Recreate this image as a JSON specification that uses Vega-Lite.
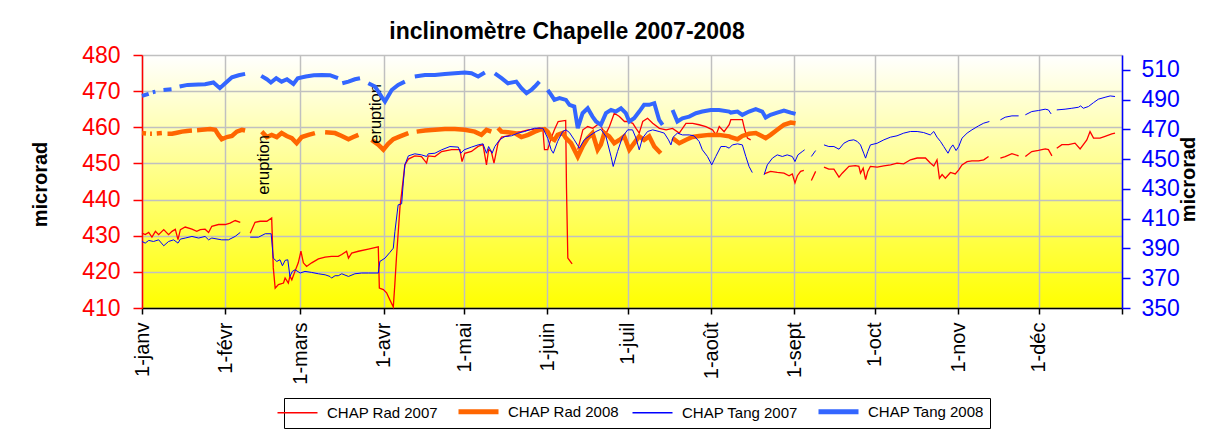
{
"$schema": "https://vega.github.io/schema/vega-lite/v6.json",
"width": 980, "height": 253,
"autosize": {"type": "none"},
"padding": {"left": 142, "top": 55, "right": 86, "bottom": 131},
"background": "white",
"title": {"text": "inclinomètre Chapelle 2007-2008", "font": "Liberation Sans", "fontSize": 23, "fontWeight": "bold", "color": "black", "anchor": "middle", "dx": -65, "offset": 0},
"config": {
  "view": {"stroke": null, "fill": {"gradient": "linear", "x1": 0, "y1": 0, "x2": 0, "y2": 1, "stops": [{"offset": 0, "color": "#ffffff"}, {"offset": 1, "color": "#ffff00"}]}},
  "axis": {"labelFont": "Liberation Sans", "titleFont": "Liberation Sans", "gridColor": "#c0c0c0", "gridWidth": 1.5, "gridOpacity": 1}
},
"data": {"values": [
{"serie":"CHAP Rad 2007","jour":0,"val":430.7},{"serie":"CHAP Rad 2007","jour":1.2,"val":430.3},{"serie":"CHAP Rad 2007","jour":2.5,"val":430.9},{"serie":"CHAP Rad 2007","jour":3.7,"val":429.6},{"serie":"CHAP Rad 2007","jour":5,"val":431.2},{"serie":"CHAP Rad 2007","jour":6.2,"val":430.3},{"serie":"CHAP Rad 2007","jour":8.1,"val":431.7},{"serie":"CHAP Rad 2007","jour":9.9,"val":430.3},{"serie":"CHAP Rad 2007","jour":11.2,"val":431.2},{"serie":"CHAP Rad 2007","jour":12.4,"val":431.8},{"serie":"CHAP Rad 2007","jour":13.4,"val":428.9},{"serie":"CHAP Rad 2007","jour":14.3,"val":431.7},{"serie":"CHAP Rad 2007","jour":16.1,"val":432.4},{"serie":"CHAP Rad 2007","jour":18.6,"val":431.8},{"serie":"CHAP Rad 2007","jour":20.4,"val":431.2},{"serie":"CHAP Rad 2007","jour":21.7,"val":431.7},{"serie":"CHAP Rad 2007","jour":23.5,"val":431.8},{"serie":"CHAP Rad 2007","jour":24.8,"val":430.9},{"serie":"CHAP Rad 2007","jour":26,"val":432.6},{"serie":"CHAP Rad 2007","jour":28.5,"val":433.1},{"serie":"CHAP Rad 2007","jour":31,"val":433.1},{"serie":"CHAP Rad 2007","jour":32.8,"val":433.5},{"serie":"CHAP Rad 2007","jour":34.7,"val":434.2},{"serie":"CHAP Rad 2007","jour":36.6,"val":433.7},{"serie":"CHAP Rad 2007","jour":38.5,"val":null},{"serie":"CHAP Rad 2007","jour":40.3,"val":430.7},{"serie":"CHAP Rad 2007","jour":42.1,"val":433.7},{"serie":"CHAP Rad 2007","jour":44,"val":434},{"serie":"CHAP Rad 2007","jour":46.5,"val":434},{"serie":"CHAP Rad 2007","jour":48.3,"val":434.9},{"serie":"CHAP Rad 2007","jour":48.9,"val":421.1},{"serie":"CHAP Rad 2007","jour":49.6,"val":415.5},{"serie":"CHAP Rad 2007","jour":50.8,"val":416.5},{"serie":"CHAP Rad 2007","jour":52.7,"val":416.9},{"serie":"CHAP Rad 2007","jour":53.3,"val":418.3},{"serie":"CHAP Rad 2007","jour":54.5,"val":416.9},{"serie":"CHAP Rad 2007","jour":55.1,"val":418.8},{"serie":"CHAP Rad 2007","jour":55.8,"val":417.8},{"serie":"CHAP Rad 2007","jour":57,"val":420.2},{"serie":"CHAP Rad 2007","jour":58.2,"val":422.5},{"serie":"CHAP Rad 2007","jour":59.2,"val":425.7},{"serie":"CHAP Rad 2007","jour":60.1,"val":422.5},{"serie":"CHAP Rad 2007","jour":61.3,"val":421.5},{"serie":"CHAP Rad 2007","jour":63.2,"val":422.5},{"serie":"CHAP Rad 2007","jour":65.7,"val":423.6},{"serie":"CHAP Rad 2007","jour":68.2,"val":424.1},{"serie":"CHAP Rad 2007","jour":70.6,"val":424.3},{"serie":"CHAP Rad 2007","jour":73.1,"val":424.3},{"serie":"CHAP Rad 2007","jour":74.4,"val":424.8},{"serie":"CHAP Rad 2007","jour":76.2,"val":425.7},{"serie":"CHAP Rad 2007","jour":76.9,"val":423.8},{"serie":"CHAP Rad 2007","jour":78.1,"val":425.2},{"serie":"CHAP Rad 2007","jour":80.6,"val":425.7},{"serie":"CHAP Rad 2007","jour":84.3,"val":426.3},{"serie":"CHAP Rad 2007","jour":88,"val":426.9},{"serie":"CHAP Rad 2007","jour":88.4,"val":415.5},{"serie":"CHAP Rad 2007","jour":89.9,"val":415.1},{"serie":"CHAP Rad 2007","jour":91.1,"val":414.2},{"serie":"CHAP Rad 2007","jour":92.3,"val":412.3},{"serie":"CHAP Rad 2007","jour":93.6,"val":410.3},{"serie":"CHAP Rad 2007","jour":94.2,"val":416.9},{"serie":"CHAP Rad 2007","jour":94.8,"val":424.3},{"serie":"CHAP Rad 2007","jour":96.1,"val":438.1},{"serie":"CHAP Rad 2007","jour":96.7,"val":441.8},{"serie":"CHAP Rad 2007","jour":97.9,"val":449.6},{"serie":"CHAP Rad 2007","jour":99.2,"val":451.2},{"serie":"CHAP Rad 2007","jour":101.6,"val":452.1},{"serie":"CHAP Rad 2007","jour":104.1,"val":451.9},{"serie":"CHAP Rad 2007","jour":106,"val":450.1},{"serie":"CHAP Rad 2007","jour":106.6,"val":452.1},{"serie":"CHAP Rad 2007","jour":109.1,"val":451.9},{"serie":"CHAP Rad 2007","jour":111.6,"val":453.3},{"serie":"CHAP Rad 2007","jour":115.3,"val":453.8},{"serie":"CHAP Rad 2007","jour":118.4,"val":453.8},{"serie":"CHAP Rad 2007","jour":119.2,"val":450.5},{"serie":"CHAP Rad 2007","jour":120.2,"val":452.8},{"serie":"CHAP Rad 2007","jour":122.7,"val":453.3},{"serie":"CHAP Rad 2007","jour":125.2,"val":454.7},{"serie":"CHAP Rad 2007","jour":127,"val":455.2},{"serie":"CHAP Rad 2007","jour":128.3,"val":449.6},{"serie":"CHAP Rad 2007","jour":129.1,"val":453.8},{"serie":"CHAP Rad 2007","jour":130.1,"val":453.3},{"serie":"CHAP Rad 2007","jour":131.1,"val":450.1},{"serie":"CHAP Rad 2007","jour":132.6,"val":455.6},{"serie":"CHAP Rad 2007","jour":133.9,"val":457.3},{"serie":"CHAP Rad 2007","jour":136.3,"val":457.6},{"serie":"CHAP Rad 2007","jour":138.8,"val":458.6},{"serie":"CHAP Rad 2007","jour":141.3,"val":458.8},{"serie":"CHAP Rad 2007","jour":143.8,"val":459.3},{"serie":"CHAP Rad 2007","jour":146.3,"val":459.5},{"serie":"CHAP Rad 2007","jour":148,"val":459.8},{"serie":"CHAP Rad 2007","jour":149.3,"val":459.5},{"serie":"CHAP Rad 2007","jour":149.9,"val":453.8},{"serie":"CHAP Rad 2007","jour":151.1,"val":453.8},{"serie":"CHAP Rad 2007","jour":152.4,"val":457},{"serie":"CHAP Rad 2007","jour":153.6,"val":459.3},{"serie":"CHAP Rad 2007","jour":155,"val":461.6},{"serie":"CHAP Rad 2007","jour":157.8,"val":461.9},{"serie":"CHAP Rad 2007","jour":158.1,"val":443.2},{"serie":"CHAP Rad 2007","jour":158.6,"val":423.8},{"serie":"CHAP Rad 2007","jour":160.2,"val":422.2},{"serie":"CHAP Rad 2007","jour":161.2,"val":null},{"serie":"CHAP Rad 2007","jour":162.3,"val":453.8},{"serie":"CHAP Rad 2007","jour":164.2,"val":459.3},{"serie":"CHAP Rad 2007","jour":166,"val":460.2},{"serie":"CHAP Rad 2007","jour":167.9,"val":459.7},{"serie":"CHAP Rad 2007","jour":170.4,"val":461.1},{"serie":"CHAP Rad 2007","jour":171.6,"val":459.3},{"serie":"CHAP Rad 2007","jour":172.9,"val":458.4},{"serie":"CHAP Rad 2007","jour":174.1,"val":460.2},{"serie":"CHAP Rad 2007","jour":175.9,"val":463.9},{"serie":"CHAP Rad 2007","jour":177.8,"val":463},{"serie":"CHAP Rad 2007","jour":179.7,"val":461.6},{"serie":"CHAP Rad 2007","jour":180.9,"val":461.6},{"serie":"CHAP Rad 2007","jour":182.8,"val":461.1},{"serie":"CHAP Rad 2007","jour":184,"val":459.7},{"serie":"CHAP Rad 2007","jour":185.2,"val":458.4},{"serie":"CHAP Rad 2007","jour":186.5,"val":461.6},{"serie":"CHAP Rad 2007","jour":188.3,"val":462.5},{"serie":"CHAP Rad 2007","jour":190.2,"val":461.1},{"serie":"CHAP Rad 2007","jour":192.7,"val":459.7},{"serie":"CHAP Rad 2007","jour":195.2,"val":459.3},{"serie":"CHAP Rad 2007","jour":197.6,"val":459.7},{"serie":"CHAP Rad 2007","jour":200.1,"val":458.4},{"serie":"CHAP Rad 2007","jour":202.6,"val":461.1},{"serie":"CHAP Rad 2007","jour":205.1,"val":461.1},{"serie":"CHAP Rad 2007","jour":207.5,"val":460.7},{"serie":"CHAP Rad 2007","jour":210,"val":460.2},{"serie":"CHAP Rad 2007","jour":212.5,"val":459.3},{"serie":"CHAP Rad 2007","jour":213.8,"val":457.9},{"serie":"CHAP Rad 2007","jour":215,"val":460.2},{"serie":"CHAP Rad 2007","jour":216.8,"val":458.8},{"serie":"CHAP Rad 2007","jour":218.7,"val":460.7},{"serie":"CHAP Rad 2007","jour":219.3,"val":462.1},{"serie":"CHAP Rad 2007","jour":223.6,"val":462.1},{"serie":"CHAP Rad 2007","jour":224.5,"val":459.3},{"serie":"CHAP Rad 2007","jour":225.5,"val":457},{"serie":"CHAP Rad 2007","jour":226.7,"val":456.5},{"serie":"CHAP Rad 2007","jour":228,"val":null},{"serie":"CHAP Rad 2007","jour":231.7,"val":447.1},{"serie":"CHAP Rad 2007","jour":234.1,"val":447.8},{"serie":"CHAP Rad 2007","jour":236.6,"val":447.5},{"serie":"CHAP Rad 2007","jour":239.1,"val":447.3},{"serie":"CHAP Rad 2007","jour":241,"val":446.6},{"serie":"CHAP Rad 2007","jour":242.2,"val":447.1},{"serie":"CHAP Rad 2007","jour":243.2,"val":444.6},{"serie":"CHAP Rad 2007","jour":244.1,"val":446.6},{"serie":"CHAP Rad 2007","jour":245.3,"val":447.8},{"serie":"CHAP Rad 2007","jour":246.5,"val":448.1},{"serie":"CHAP Rad 2007","jour":247.6,"val":null},{"serie":"CHAP Rad 2007","jour":249.3,"val":445.3},{"serie":"CHAP Rad 2007","jour":250.9,"val":447.8},{"serie":"CHAP Rad 2007","jour":252,"val":null},{"serie":"CHAP Rad 2007","jour":254,"val":449},{"serie":"CHAP Rad 2007","jour":255.8,"val":448.4},{"serie":"CHAP Rad 2007","jour":257.7,"val":448.4},{"serie":"CHAP Rad 2007","jour":259.6,"val":446.2},{"serie":"CHAP Rad 2007","jour":260.8,"val":447.3},{"serie":"CHAP Rad 2007","jour":263.3,"val":449.2},{"serie":"CHAP Rad 2007","jour":265.7,"val":449.4},{"serie":"CHAP Rad 2007","jour":267,"val":449.2},{"serie":"CHAP Rad 2007","jour":267.6,"val":447.3},{"serie":"CHAP Rad 2007","jour":268.6,"val":448.7},{"serie":"CHAP Rad 2007","jour":269.5,"val":445.5},{"serie":"CHAP Rad 2007","jour":270.3,"val":447.8},{"serie":"CHAP Rad 2007","jour":271.3,"val":449.2},{"serie":"CHAP Rad 2007","jour":273.8,"val":449},{"serie":"CHAP Rad 2007","jour":276.3,"val":449.3},{"serie":"CHAP Rad 2007","jour":278.8,"val":449.6},{"serie":"CHAP Rad 2007","jour":281.2,"val":450.1},{"serie":"CHAP Rad 2007","jour":283.7,"val":449.9},{"serie":"CHAP Rad 2007","jour":286.2,"val":451},{"serie":"CHAP Rad 2007","jour":288.7,"val":451.5},{"serie":"CHAP Rad 2007","jour":291.8,"val":451.5},{"serie":"CHAP Rad 2007","jour":293.6,"val":450.1},{"serie":"CHAP Rad 2007","jour":294.9,"val":449.3},{"serie":"CHAP Rad 2007","jour":296.1,"val":451},{"serie":"CHAP Rad 2007","jour":297,"val":445.9},{"serie":"CHAP Rad 2007","jour":298,"val":446.9},{"serie":"CHAP Rad 2007","jour":299.2,"val":445.9},{"serie":"CHAP Rad 2007","jour":301.1,"val":447.5},{"serie":"CHAP Rad 2007","jour":302.9,"val":447.1},{"serie":"CHAP Rad 2007","jour":304.2,"val":448.2},{"serie":"CHAP Rad 2007","jour":305.4,"val":449.6},{"serie":"CHAP Rad 2007","jour":307.3,"val":450.5},{"serie":"CHAP Rad 2007","jour":309.1,"val":450.7},{"serie":"CHAP Rad 2007","jour":311.6,"val":450.7},{"serie":"CHAP Rad 2007","jour":313.5,"val":451},{"serie":"CHAP Rad 2007","jour":315.3,"val":451.9},{"serie":"CHAP Rad 2007","jour":317,"val":null},{"serie":"CHAP Rad 2007","jour":319.7,"val":451.5},{"serie":"CHAP Rad 2007","jour":321.5,"val":451.9},{"serie":"CHAP Rad 2007","jour":324,"val":452.7},{"serie":"CHAP Rad 2007","jour":326.5,"val":452.1},{"serie":"CHAP Rad 2007","jour":327.7,"val":null},{"serie":"CHAP Rad 2007","jour":329,"val":451.9},{"serie":"CHAP Rad 2007","jour":331.4,"val":453.3},{"serie":"CHAP Rad 2007","jour":333.9,"val":453.6},{"serie":"CHAP Rad 2007","jour":336.4,"val":454},{"serie":"CHAP Rad 2007","jour":337.6,"val":453.8},{"serie":"CHAP Rad 2007","jour":338.9,"val":452.1},{"serie":"CHAP Rad 2007","jour":339.8,"val":null},{"serie":"CHAP Rad 2007","jour":340.7,"val":454.2},{"serie":"CHAP Rad 2007","jour":342.6,"val":455.2},{"serie":"CHAP Rad 2007","jour":345.1,"val":455.2},{"serie":"CHAP Rad 2007","jour":347.5,"val":455.6},{"serie":"CHAP Rad 2007","jour":349.4,"val":454},{"serie":"CHAP Rad 2007","jour":350.6,"val":455.2},{"serie":"CHAP Rad 2007","jour":351.9,"val":456.5},{"serie":"CHAP Rad 2007","jour":353.1,"val":458.8},{"serie":"CHAP Rad 2007","jour":354.4,"val":457},{"serie":"CHAP Rad 2007","jour":356.8,"val":457},{"serie":"CHAP Rad 2007","jour":358.7,"val":457.5},{"serie":"CHAP Rad 2007","jour":361.2,"val":458.2},{"serie":"CHAP Rad 2007","jour":362.4,"val":458.4},
{"serie":"CHAP Rad 2008","jour":0,"val":458.4},{"serie":"CHAP Rad 2008","jour":1.5,"val":458.3},{"serie":"CHAP Rad 2008","jour":2.2,"val":null},{"serie":"CHAP Rad 2008","jour":3,"val":458.2},{"serie":"CHAP Rad 2008","jour":3.7,"val":458.2},{"serie":"CHAP Rad 2008","jour":4.5,"val":null},{"serie":"CHAP Rad 2008","jour":5.5,"val":458.3},{"serie":"CHAP Rad 2008","jour":7.4,"val":458.4},{"serie":"CHAP Rad 2008","jour":8.5,"val":null},{"serie":"CHAP Rad 2008","jour":9.5,"val":458.2},{"serie":"CHAP Rad 2008","jour":11.2,"val":458.2},{"serie":"CHAP Rad 2008","jour":13,"val":458.5},{"serie":"CHAP Rad 2008","jour":14.9,"val":458.8},{"serie":"CHAP Rad 2008","jour":16.8,"val":459},{"serie":"CHAP Rad 2008","jour":18.6,"val":459.1},{"serie":"CHAP Rad 2008","jour":19.5,"val":null},{"serie":"CHAP Rad 2008","jour":20.5,"val":459.2},{"serie":"CHAP Rad 2008","jour":22.3,"val":459.3},{"serie":"CHAP Rad 2008","jour":25.4,"val":459.5},{"serie":"CHAP Rad 2008","jour":27.3,"val":459.3},{"serie":"CHAP Rad 2008","jour":28.5,"val":457.9},{"serie":"CHAP Rad 2008","jour":29.7,"val":456.7},{"serie":"CHAP Rad 2008","jour":31.6,"val":457.3},{"serie":"CHAP Rad 2008","jour":33.5,"val":457.6},{"serie":"CHAP Rad 2008","jour":35.3,"val":458.8},{"serie":"CHAP Rad 2008","jour":37.2,"val":459.3},{"serie":"CHAP Rad 2008","jour":38.4,"val":459.1},{"serie":"CHAP Rad 2008","jour":41,"val":null},{"serie":"CHAP Rad 2008","jour":44.6,"val":458.8},{"serie":"CHAP Rad 2008","jour":46.5,"val":457.3},{"serie":"CHAP Rad 2008","jour":48.3,"val":457.9},{"serie":"CHAP Rad 2008","jour":50.2,"val":457.3},{"serie":"CHAP Rad 2008","jour":52,"val":458.4},{"serie":"CHAP Rad 2008","jour":53.9,"val":457.6},{"serie":"CHAP Rad 2008","jour":55.8,"val":457},{"serie":"CHAP Rad 2008","jour":57.6,"val":455.6},{"serie":"CHAP Rad 2008","jour":59.5,"val":457.3},{"serie":"CHAP Rad 2008","jour":62,"val":457.9},{"serie":"CHAP Rad 2008","jour":64.4,"val":458.4},{"serie":"CHAP Rad 2008","jour":66,"val":null},{"serie":"CHAP Rad 2008","jour":68.2,"val":458.6},{"serie":"CHAP Rad 2008","jour":71.9,"val":458.4},{"serie":"CHAP Rad 2008","jour":74.4,"val":457.6},{"serie":"CHAP Rad 2008","jour":76.9,"val":456.7},{"serie":"CHAP Rad 2008","jour":78.7,"val":457.3},{"serie":"CHAP Rad 2008","jour":80.6,"val":457.9},{"serie":"CHAP Rad 2008","jour":83,"val":null},{"serie":"CHAP Rad 2008","jour":85.5,"val":456.5},{"serie":"CHAP Rad 2008","jour":88,"val":455.2},{"serie":"CHAP Rad 2008","jour":89.9,"val":453.8},{"serie":"CHAP Rad 2008","jour":91.7,"val":455.4},{"serie":"CHAP Rad 2008","jour":93.6,"val":456.7},{"serie":"CHAP Rad 2008","jour":96.1,"val":457.5},{"serie":"CHAP Rad 2008","jour":99.2,"val":458.4},{"serie":"CHAP Rad 2008","jour":100.6,"val":null},{"serie":"CHAP Rad 2008","jour":102.3,"val":458.8},{"serie":"CHAP Rad 2008","jour":105.4,"val":459.1},{"serie":"CHAP Rad 2008","jour":109.1,"val":459.3},{"serie":"CHAP Rad 2008","jour":112.8,"val":459.5},{"serie":"CHAP Rad 2008","jour":116.5,"val":459.5},{"serie":"CHAP Rad 2008","jour":120.2,"val":459.3},{"serie":"CHAP Rad 2008","jour":123.9,"val":458.8},{"serie":"CHAP Rad 2008","jour":126.4,"val":457.9},{"serie":"CHAP Rad 2008","jour":128.3,"val":459.3},{"serie":"CHAP Rad 2008","jour":130.1,"val":458.8},{"serie":"CHAP Rad 2008","jour":131.2,"val":null},{"serie":"CHAP Rad 2008","jour":132.6,"val":459.8},{"serie":"CHAP Rad 2008","jour":133.9,"val":458.8},{"serie":"CHAP Rad 2008","jour":136.3,"val":458.6},{"serie":"CHAP Rad 2008","jour":138.8,"val":458.4},{"serie":"CHAP Rad 2008","jour":141.3,"val":457.3},{"serie":"CHAP Rad 2008","jour":143.8,"val":457.9},{"serie":"CHAP Rad 2008","jour":146.3,"val":458.8},{"serie":"CHAP Rad 2008","jour":148,"val":459.3},{"serie":"CHAP Rad 2008","jour":149.9,"val":459.5},{"serie":"CHAP Rad 2008","jour":151.1,"val":458.8},{"serie":"CHAP Rad 2008","jour":152.4,"val":457},{"serie":"CHAP Rad 2008","jour":153.6,"val":456.5},{"serie":"CHAP Rad 2008","jour":154.8,"val":457.9},{"serie":"CHAP Rad 2008","jour":156.7,"val":458.4},{"serie":"CHAP Rad 2008","jour":157.9,"val":457},{"serie":"CHAP Rad 2008","jour":159.8,"val":455.6},{"serie":"CHAP Rad 2008","jour":162.3,"val":451.9},{"serie":"CHAP Rad 2008","jour":164.1,"val":454.7},{"serie":"CHAP Rad 2008","jour":166,"val":457},{"serie":"CHAP Rad 2008","jour":167.8,"val":458.4},{"serie":"CHAP Rad 2008","jour":169.7,"val":453.8},{"serie":"CHAP Rad 2008","jour":170.9,"val":455.2},{"serie":"CHAP Rad 2008","jour":172.2,"val":458.4},{"serie":"CHAP Rad 2008","jour":174,"val":457.5},{"serie":"CHAP Rad 2008","jour":175.9,"val":455.6},{"serie":"CHAP Rad 2008","jour":177.8,"val":456.5},{"serie":"CHAP Rad 2008","jour":179.6,"val":457.5},{"serie":"CHAP Rad 2008","jour":181.5,"val":453.8},{"serie":"CHAP Rad 2008","jour":183.3,"val":455.6},{"serie":"CHAP Rad 2008","jour":185.2,"val":457.5},{"serie":"CHAP Rad 2008","jour":187,"val":456.5},{"serie":"CHAP Rad 2008","jour":188.9,"val":457.5},{"serie":"CHAP Rad 2008","jour":190.8,"val":454.7},{"serie":"CHAP Rad 2008","jour":193.2,"val":452.8},{"serie":"CHAP Rad 2008","jour":195,"val":null},{"serie":"CHAP Rad 2008","jour":197.6,"val":457},{"serie":"CHAP Rad 2008","jour":200.1,"val":455.6},{"serie":"CHAP Rad 2008","jour":202.5,"val":456.5},{"serie":"CHAP Rad 2008","jour":205,"val":457.3},{"serie":"CHAP Rad 2008","jour":207.5,"val":457.6},{"serie":"CHAP Rad 2008","jour":211.2,"val":457.9},{"serie":"CHAP Rad 2008","jour":214.9,"val":457.9},{"serie":"CHAP Rad 2008","jour":218.7,"val":457.5},{"serie":"CHAP Rad 2008","jour":219.3,"val":457.3},{"serie":"CHAP Rad 2008","jour":221.8,"val":456.7},{"serie":"CHAP Rad 2008","jour":223.6,"val":457.6},{"serie":"CHAP Rad 2008","jour":226.1,"val":458.2},{"serie":"CHAP Rad 2008","jour":228.6,"val":458.4},{"serie":"CHAP Rad 2008","jour":231,"val":457.5},{"serie":"CHAP Rad 2008","jour":232.3,"val":457},{"serie":"CHAP Rad 2008","jour":234.1,"val":457.9},{"serie":"CHAP Rad 2008","jour":236.6,"val":459.3},{"serie":"CHAP Rad 2008","jour":239.1,"val":460.7},{"serie":"CHAP Rad 2008","jour":241.6,"val":461.3},{"serie":"CHAP Rad 2008","jour":243.4,"val":461.1},
{"serie":"CHAP Tang 2007","jour":0,"val":394.7},{"serie":"CHAP Tang 2007","jour":1.2,"val":393.6},{"serie":"CHAP Tang 2007","jour":2.5,"val":395.4},{"serie":"CHAP Tang 2007","jour":4.3,"val":394.7},{"serie":"CHAP Tang 2007","jour":6.2,"val":395.8},{"serie":"CHAP Tang 2007","jour":8.1,"val":391.8},{"serie":"CHAP Tang 2007","jour":9.9,"val":394.7},{"serie":"CHAP Tang 2007","jour":11.8,"val":395.8},{"serie":"CHAP Tang 2007","jour":13.4,"val":393.6},{"serie":"CHAP Tang 2007","jour":14.3,"val":396.3},{"serie":"CHAP Tang 2007","jour":16.1,"val":397},{"serie":"CHAP Tang 2007","jour":18.6,"val":398.1},{"serie":"CHAP Tang 2007","jour":21.1,"val":397},{"serie":"CHAP Tang 2007","jour":23.5,"val":398.1},{"serie":"CHAP Tang 2007","jour":24.8,"val":395.8},{"serie":"CHAP Tang 2007","jour":26,"val":397},{"serie":"CHAP Tang 2007","jour":29.7,"val":395.8},{"serie":"CHAP Tang 2007","jour":32.2,"val":395.8},{"serie":"CHAP Tang 2007","jour":34.7,"val":398.1},{"serie":"CHAP Tang 2007","jour":36.6,"val":400.8},{"serie":"CHAP Tang 2007","jour":38.5,"val":null},{"serie":"CHAP Tang 2007","jour":40.3,"val":397.6},{"serie":"CHAP Tang 2007","jour":43.4,"val":397.6},{"serie":"CHAP Tang 2007","jour":45.9,"val":399.9},{"serie":"CHAP Tang 2007","jour":48.1,"val":399.9},{"serie":"CHAP Tang 2007","jour":48.9,"val":383.5},{"serie":"CHAP Tang 2007","jour":50.2,"val":381.3},{"serie":"CHAP Tang 2007","jour":51.4,"val":382.4},{"serie":"CHAP Tang 2007","jour":52.3,"val":378.4},{"serie":"CHAP Tang 2007","jour":53.3,"val":382},{"serie":"CHAP Tang 2007","jour":54.3,"val":382.4},{"serie":"CHAP Tang 2007","jour":55.1,"val":371.2},{"serie":"CHAP Tang 2007","jour":56,"val":374.6},{"serie":"CHAP Tang 2007","jour":57,"val":375.7},{"serie":"CHAP Tang 2007","jour":58.9,"val":373.5},{"serie":"CHAP Tang 2007","jour":60.7,"val":374.6},{"serie":"CHAP Tang 2007","jour":63.2,"val":373.9},{"serie":"CHAP Tang 2007","jour":65.7,"val":373},{"serie":"CHAP Tang 2007","jour":68.2,"val":372.3},{"serie":"CHAP Tang 2007","jour":70,"val":371.2},{"serie":"CHAP Tang 2007","jour":70.6,"val":370.1},{"serie":"CHAP Tang 2007","jour":71.9,"val":371.7},{"serie":"CHAP Tang 2007","jour":73.1,"val":371.7},{"serie":"CHAP Tang 2007","jour":74.4,"val":373},{"serie":"CHAP Tang 2007","jour":76.9,"val":371.2},{"serie":"CHAP Tang 2007","jour":79.3,"val":373},{"serie":"CHAP Tang 2007","jour":81.8,"val":373.5},{"serie":"CHAP Tang 2007","jour":84.3,"val":373.5},{"serie":"CHAP Tang 2007","jour":88,"val":373.5},{"serie":"CHAP Tang 2007","jour":88.6,"val":381.3},{"serie":"CHAP Tang 2007","jour":90.5,"val":383.5},{"serie":"CHAP Tang 2007","jour":92.3,"val":387.3},{"serie":"CHAP Tang 2007","jour":93.6,"val":390.2},{"serie":"CHAP Tang 2007","jour":94.2,"val":401.4},{"serie":"CHAP Tang 2007","jour":95.4,"val":419.3},{"serie":"CHAP Tang 2007","jour":96.7,"val":420},{"serie":"CHAP Tang 2007","jour":97.3,"val":433.9},{"serie":"CHAP Tang 2007","jour":97.9,"val":446.2},{"serie":"CHAP Tang 2007","jour":99.2,"val":452.2},{"serie":"CHAP Tang 2007","jour":101.6,"val":453.6},{"serie":"CHAP Tang 2007","jour":104.1,"val":452.9},{"serie":"CHAP Tang 2007","jour":106,"val":451.8},{"serie":"CHAP Tang 2007","jour":106.6,"val":453.6},{"serie":"CHAP Tang 2007","jour":109.1,"val":454},{"serie":"CHAP Tang 2007","jour":111.6,"val":456.3},{"serie":"CHAP Tang 2007","jour":114.7,"val":458.5},{"serie":"CHAP Tang 2007","jour":117.8,"val":458.1},{"serie":"CHAP Tang 2007","jour":118.7,"val":454},{"serie":"CHAP Tang 2007","jour":120,"val":456.3},{"serie":"CHAP Tang 2007","jour":122.7,"val":458.1},{"serie":"CHAP Tang 2007","jour":125.2,"val":459.6},{"serie":"CHAP Tang 2007","jour":127,"val":460.3},{"serie":"CHAP Tang 2007","jour":128.3,"val":454},{"serie":"CHAP Tang 2007","jour":129.1,"val":458.5},{"serie":"CHAP Tang 2007","jour":130.4,"val":454},{"serie":"CHAP Tang 2007","jour":131.4,"val":458.5},{"serie":"CHAP Tang 2007","jour":133.2,"val":463},{"serie":"CHAP Tang 2007","jour":135.1,"val":465.2},{"serie":"CHAP Tang 2007","jour":137.6,"val":465.7},{"serie":"CHAP Tang 2007","jour":140,"val":467.5},{"serie":"CHAP Tang 2007","jour":142.5,"val":468.6},{"serie":"CHAP Tang 2007","jour":145,"val":470.1},{"serie":"CHAP Tang 2007","jour":146.3,"val":470.8},{"serie":"CHAP Tang 2007","jour":149.3,"val":470.8},{"serie":"CHAP Tang 2007","jour":151.1,"val":464.1},{"serie":"CHAP Tang 2007","jour":152.4,"val":456.3},{"serie":"CHAP Tang 2007","jour":153.2,"val":454},{"serie":"CHAP Tang 2007","jour":154.8,"val":461.9},{"serie":"CHAP Tang 2007","jour":156.7,"val":468.6},{"serie":"CHAP Tang 2007","jour":157.9,"val":469.7},{"serie":"CHAP Tang 2007","jour":159.2,"val":467.9},{"serie":"CHAP Tang 2007","jour":161,"val":463},{"serie":"CHAP Tang 2007","jour":162.9,"val":457.4},{"serie":"CHAP Tang 2007","jour":164.7,"val":463},{"serie":"CHAP Tang 2007","jour":167.2,"val":466.3},{"serie":"CHAP Tang 2007","jour":169.1,"val":468.6},{"serie":"CHAP Tang 2007","jour":170.9,"val":470.1},{"serie":"CHAP Tang 2007","jour":172.8,"val":465.2},{"serie":"CHAP Tang 2007","jour":174.7,"val":451.8},{"serie":"CHAP Tang 2007","jour":175.5,"val":445.1},{"serie":"CHAP Tang 2007","jour":177.1,"val":455.1},{"serie":"CHAP Tang 2007","jour":179,"val":465.2},{"serie":"CHAP Tang 2007","jour":180.9,"val":469.7},{"serie":"CHAP Tang 2007","jour":182.7,"val":469.7},{"serie":"CHAP Tang 2007","jour":184,"val":464.1},{"serie":"CHAP Tang 2007","jour":185.2,"val":456.3},{"serie":"CHAP Tang 2007","jour":186.4,"val":464.1},{"serie":"CHAP Tang 2007","jour":188.3,"val":468.6},{"serie":"CHAP Tang 2007","jour":190.2,"val":469.7},{"serie":"CHAP Tang 2007","jour":192.6,"val":468.6},{"serie":"CHAP Tang 2007","jour":194.5,"val":467.5},{"serie":"CHAP Tang 2007","jour":196.1,"val":463},{"serie":"CHAP Tang 2007","jour":197,"val":459.6},{"serie":"CHAP Tang 2007","jour":197.8,"val":464.8},{"serie":"CHAP Tang 2007","jour":199.4,"val":467.5},{"serie":"CHAP Tang 2007","jour":201.3,"val":466.3},{"serie":"CHAP Tang 2007","jour":203.8,"val":466.3},{"serie":"CHAP Tang 2007","jour":205.6,"val":465.7},{"serie":"CHAP Tang 2007","jour":207.5,"val":461.9},{"serie":"CHAP Tang 2007","jour":208.7,"val":456.3},{"serie":"CHAP Tang 2007","jour":210.6,"val":451.8},{"serie":"CHAP Tang 2007","jour":212.2,"val":446.2},{"serie":"CHAP Tang 2007","jour":213.7,"val":451.8},{"serie":"CHAP Tang 2007","jour":215.6,"val":458.5},{"serie":"CHAP Tang 2007","jour":217.4,"val":458.5},{"serie":"CHAP Tang 2007","jour":218.7,"val":457.4},{"serie":"CHAP Tang 2007","jour":219.9,"val":459.6},{"serie":"CHAP Tang 2007","jour":221.8,"val":460.3},{"serie":"CHAP Tang 2007","jour":223.6,"val":459.6},{"serie":"CHAP Tang 2007","jour":224.9,"val":451.8},{"serie":"CHAP Tang 2007","jour":226.1,"val":445.1},{"serie":"CHAP Tang 2007","jour":227.3,"val":441},{"serie":"CHAP Tang 2007","jour":229,"val":null},{"serie":"CHAP Tang 2007","jour":231.7,"val":439.5},{"serie":"CHAP Tang 2007","jour":232.9,"val":446.2},{"serie":"CHAP Tang 2007","jour":234.8,"val":450.7},{"serie":"CHAP Tang 2007","jour":236.6,"val":452.9},{"serie":"CHAP Tang 2007","jour":238.5,"val":451.8},{"serie":"CHAP Tang 2007","jour":240.3,"val":452.9},{"serie":"CHAP Tang 2007","jour":242.2,"val":451.8},{"serie":"CHAP Tang 2007","jour":243.2,"val":448.4},{"serie":"CHAP Tang 2007","jour":244.3,"val":452.9},{"serie":"CHAP Tang 2007","jour":245.9,"val":455.1},{"serie":"CHAP Tang 2007","jour":246.8,"val":456.3},{"serie":"CHAP Tang 2007","jour":247.8,"val":null},{"serie":"CHAP Tang 2007","jour":249.3,"val":451.8},{"serie":"CHAP Tang 2007","jour":250.9,"val":455.8},{"serie":"CHAP Tang 2007","jour":252,"val":null},{"serie":"CHAP Tang 2007","jour":254,"val":459.6},{"serie":"CHAP Tang 2007","jour":255.8,"val":458.5},{"serie":"CHAP Tang 2007","jour":257.7,"val":458.5},{"serie":"CHAP Tang 2007","jour":259.6,"val":456.7},{"serie":"CHAP Tang 2007","jour":261.4,"val":460.7},{"serie":"CHAP Tang 2007","jour":263.3,"val":462.5},{"serie":"CHAP Tang 2007","jour":265.1,"val":463},{"serie":"CHAP Tang 2007","jour":266.4,"val":461.9},{"serie":"CHAP Tang 2007","jour":267.6,"val":459.6},{"serie":"CHAP Tang 2007","jour":268.8,"val":454},{"serie":"CHAP Tang 2007","jour":269.5,"val":450.7},{"serie":"CHAP Tang 2007","jour":270.3,"val":455.1},{"serie":"CHAP Tang 2007","jour":271.3,"val":459.6},{"serie":"CHAP Tang 2007","jour":273.8,"val":460.7},{"serie":"CHAP Tang 2007","jour":276.3,"val":463},{"serie":"CHAP Tang 2007","jour":278.8,"val":464.8},{"serie":"CHAP Tang 2007","jour":281.2,"val":465.7},{"serie":"CHAP Tang 2007","jour":283.7,"val":467.5},{"serie":"CHAP Tang 2007","jour":286.2,"val":468.6},{"serie":"CHAP Tang 2007","jour":288.7,"val":468.6},{"serie":"CHAP Tang 2007","jour":291.1,"val":467.9},{"serie":"CHAP Tang 2007","jour":293.6,"val":466.3},{"serie":"CHAP Tang 2007","jour":294.9,"val":468.6},{"serie":"CHAP Tang 2007","jour":296.1,"val":464.8},{"serie":"CHAP Tang 2007","jour":297.4,"val":461.9},{"serie":"CHAP Tang 2007","jour":298.6,"val":458.5},{"serie":"CHAP Tang 2007","jour":300.2,"val":454},{"serie":"CHAP Tang 2007","jour":301.1,"val":457.4},{"serie":"CHAP Tang 2007","jour":302,"val":459.6},{"serie":"CHAP Tang 2007","jour":303.2,"val":455.8},{"serie":"CHAP Tang 2007","jour":304.2,"val":458.5},{"serie":"CHAP Tang 2007","jour":305.4,"val":464.1},{"serie":"CHAP Tang 2007","jour":307.3,"val":467.5},{"serie":"CHAP Tang 2007","jour":309.1,"val":469.7},{"serie":"CHAP Tang 2007","jour":311.6,"val":472.4},{"serie":"CHAP Tang 2007","jour":313.5,"val":474.2},{"serie":"CHAP Tang 2007","jour":315.6,"val":475.3},{"serie":"CHAP Tang 2007","jour":317.5,"val":null},{"serie":"CHAP Tang 2007","jour":319.7,"val":476.4},{"serie":"CHAP Tang 2007","jour":321.5,"val":478.2},{"serie":"CHAP Tang 2007","jour":324,"val":479.1},{"serie":"CHAP Tang 2007","jour":326.5,"val":479.1},{"serie":"CHAP Tang 2007","jour":327.7,"val":null},{"serie":"CHAP Tang 2007","jour":329,"val":479.8},{"serie":"CHAP Tang 2007","jour":331.4,"val":482},{"serie":"CHAP Tang 2007","jour":333.9,"val":482.7},{"serie":"CHAP Tang 2007","jour":336.4,"val":483.6},{"serie":"CHAP Tang 2007","jour":337.6,"val":483.1},{"serie":"CHAP Tang 2007","jour":338.6,"val":480.4},{"serie":"CHAP Tang 2007","jour":339.8,"val":null},{"serie":"CHAP Tang 2007","jour":340.7,"val":483.1},{"serie":"CHAP Tang 2007","jour":343.8,"val":483.6},{"serie":"CHAP Tang 2007","jour":346.3,"val":484.2},{"serie":"CHAP Tang 2007","jour":348.8,"val":484.9},{"serie":"CHAP Tang 2007","jour":349.6,"val":485.8},{"serie":"CHAP Tang 2007","jour":350.6,"val":484.2},{"serie":"CHAP Tang 2007","jour":352.5,"val":485.4},{"serie":"CHAP Tang 2007","jour":354.4,"val":488},{"serie":"CHAP Tang 2007","jour":356.2,"val":490.3},{"serie":"CHAP Tang 2007","jour":358.7,"val":491.6},{"serie":"CHAP Tang 2007","jour":360.6,"val":492.5},{"serie":"CHAP Tang 2007","jour":362.4,"val":492.1},
{"serie":"CHAP Tang 2008","jour":0,"val":492.5},{"serie":"CHAP Tang 2008","jour":2.5,"val":493.9},{"serie":"CHAP Tang 2008","jour":3.2,"val":null},{"serie":"CHAP Tang 2008","jour":4,"val":495},{"serie":"CHAP Tang 2008","jour":5,"val":495.4},{"serie":"CHAP Tang 2008","jour":6.5,"val":null},{"serie":"CHAP Tang 2008","jour":8,"val":496.5},{"serie":"CHAP Tang 2008","jour":11,"val":497},{"serie":"CHAP Tang 2008","jour":12.5,"val":null},{"serie":"CHAP Tang 2008","jour":14,"val":498.8},{"serie":"CHAP Tang 2008","jour":17,"val":499.9},{"serie":"CHAP Tang 2008","jour":21,"val":500.1},{"serie":"CHAP Tang 2008","jour":23.5,"val":500.3},{"serie":"CHAP Tang 2008","jour":26.6,"val":501.5},{"serie":"CHAP Tang 2008","jour":29,"val":497.7},{"serie":"CHAP Tang 2008","jour":31,"val":501},{"serie":"CHAP Tang 2008","jour":33.5,"val":505},{"serie":"CHAP Tang 2008","jour":36,"val":506.4},{"serie":"CHAP Tang 2008","jour":38.4,"val":507.3},{"serie":"CHAP Tang 2008","jour":41,"val":null},{"serie":"CHAP Tang 2008","jour":44.4,"val":506},{"serie":"CHAP Tang 2008","jour":46.5,"val":503.7},{"serie":"CHAP Tang 2008","jour":48,"val":501.5},{"serie":"CHAP Tang 2008","jour":50,"val":504.4},{"serie":"CHAP Tang 2008","jour":52,"val":502.1},{"serie":"CHAP Tang 2008","jour":54,"val":503.7},{"serie":"CHAP Tang 2008","jour":56.4,"val":500.6},{"serie":"CHAP Tang 2008","jour":58,"val":504.4},{"serie":"CHAP Tang 2008","jour":61,"val":505.5},{"serie":"CHAP Tang 2008","jour":64,"val":506.4},{"serie":"CHAP Tang 2008","jour":67,"val":506.6},{"serie":"CHAP Tang 2008","jour":70,"val":506.4},{"serie":"CHAP Tang 2008","jour":73,"val":504.4},{"serie":"CHAP Tang 2008","jour":73.8,"val":null},{"serie":"CHAP Tang 2008","jour":74.6,"val":501},{"serie":"CHAP Tang 2008","jour":76.9,"val":502.1},{"serie":"CHAP Tang 2008","jour":79.3,"val":503.7},{"serie":"CHAP Tang 2008","jour":81.2,"val":504.4},{"serie":"CHAP Tang 2008","jour":82.5,"val":null},{"serie":"CHAP Tang 2008","jour":84.3,"val":501},{"serie":"CHAP Tang 2008","jour":86.8,"val":498.8},{"serie":"CHAP Tang 2008","jour":89.2,"val":492.1},{"serie":"CHAP Tang 2008","jour":90.5,"val":488.7},{"serie":"CHAP Tang 2008","jour":93,"val":496.5},{"serie":"CHAP Tang 2008","jour":95.4,"val":499.9},{"serie":"CHAP Tang 2008","jour":97.9,"val":502.1},{"serie":"CHAP Tang 2008","jour":99.5,"val":null},{"serie":"CHAP Tang 2008","jour":101.6,"val":505.5},{"serie":"CHAP Tang 2008","jour":105.4,"val":506.6},{"serie":"CHAP Tang 2008","jour":109.1,"val":506.6},{"serie":"CHAP Tang 2008","jour":112.8,"val":507.3},{"serie":"CHAP Tang 2008","jour":116.5,"val":507.7},{"serie":"CHAP Tang 2008","jour":120.2,"val":508.2},{"serie":"CHAP Tang 2008","jour":122.7,"val":507.7},{"serie":"CHAP Tang 2008","jour":125.2,"val":505.5},{"serie":"CHAP Tang 2008","jour":127.7,"val":508.2},{"serie":"CHAP Tang 2008","jour":129.5,"val":null},{"serie":"CHAP Tang 2008","jour":131.4,"val":507.7},{"serie":"CHAP Tang 2008","jour":133.9,"val":504.4},{"serie":"CHAP Tang 2008","jour":136.3,"val":501},{"serie":"CHAP Tang 2008","jour":139.4,"val":502.1},{"serie":"CHAP Tang 2008","jour":141.3,"val":497.7},{"serie":"CHAP Tang 2008","jour":143.2,"val":494.3},{"serie":"CHAP Tang 2008","jour":145,"val":496.5},{"serie":"CHAP Tang 2008","jour":146.3,"val":498.8},{"serie":"CHAP Tang 2008","jour":148,"val":502.1},{"serie":"CHAP Tang 2008","jour":150,"val":null},{"serie":"CHAP Tang 2008","jour":151.1,"val":496.5},{"serie":"CHAP Tang 2008","jour":152.4,"val":493.2},{"serie":"CHAP Tang 2008","jour":153.6,"val":489.8},{"serie":"CHAP Tang 2008","jour":155.5,"val":491},{"serie":"CHAP Tang 2008","jour":157.9,"val":489.8},{"serie":"CHAP Tang 2008","jour":159.2,"val":486.5},{"serie":"CHAP Tang 2008","jour":161,"val":485.4},{"serie":"CHAP Tang 2008","jour":162.3,"val":470.8},{"serie":"CHAP Tang 2008","jour":164.1,"val":480.9},{"serie":"CHAP Tang 2008","jour":166,"val":484.2},{"serie":"CHAP Tang 2008","jour":167.8,"val":478.6},{"serie":"CHAP Tang 2008","jour":169.1,"val":475.3},{"serie":"CHAP Tang 2008","jour":170.9,"val":473.1},{"serie":"CHAP Tang 2008","jour":172.8,"val":480.9},{"serie":"CHAP Tang 2008","jour":174.7,"val":483.1},{"serie":"CHAP Tang 2008","jour":176.5,"val":482},{"serie":"CHAP Tang 2008","jour":178.4,"val":484.2},{"serie":"CHAP Tang 2008","jour":180.2,"val":480.9},{"serie":"CHAP Tang 2008","jour":181.5,"val":475.3},{"serie":"CHAP Tang 2008","jour":183.3,"val":477.5},{"serie":"CHAP Tang 2008","jour":185.2,"val":482},{"serie":"CHAP Tang 2008","jour":187,"val":486.5},{"serie":"CHAP Tang 2008","jour":188.9,"val":486.5},{"serie":"CHAP Tang 2008","jour":190.8,"val":487.6},{"serie":"CHAP Tang 2008","jour":192.6,"val":476.4},{"serie":"CHAP Tang 2008","jour":193.9,"val":473.1},{"serie":"CHAP Tang 2008","jour":195.5,"val":null},{"serie":"CHAP Tang 2008","jour":197.6,"val":483.1},{"serie":"CHAP Tang 2008","jour":199.4,"val":475.3},{"serie":"CHAP Tang 2008","jour":201.3,"val":477.5},{"serie":"CHAP Tang 2008","jour":203.8,"val":478.6},{"serie":"CHAP Tang 2008","jour":206.3,"val":480.9},{"serie":"CHAP Tang 2008","jour":208.7,"val":482},{"serie":"CHAP Tang 2008","jour":211.8,"val":483.1},{"serie":"CHAP Tang 2008","jour":214.9,"val":483.1},{"serie":"CHAP Tang 2008","jour":218.7,"val":482},{"serie":"CHAP Tang 2008","jour":219.3,"val":481.3},{"serie":"CHAP Tang 2008","jour":221.8,"val":482},{"serie":"CHAP Tang 2008","jour":223.6,"val":479.8},{"serie":"CHAP Tang 2008","jour":226.1,"val":482},{"serie":"CHAP Tang 2008","jour":228.6,"val":483.6},{"serie":"CHAP Tang 2008","jour":231,"val":482},{"serie":"CHAP Tang 2008","jour":232.3,"val":478},{"serie":"CHAP Tang 2008","jour":234.1,"val":479.8},{"serie":"CHAP Tang 2008","jour":236.6,"val":481.3},{"serie":"CHAP Tang 2008","jour":239.1,"val":482.7},{"serie":"CHAP Tang 2008","jour":241.6,"val":481.3},{"serie":"CHAP Tang 2008","jour":243.4,"val":480.4}
]},
"layer": [
  {"transform": [{"filter": "indexof(datum.serie, 'Rad') >= 0"}],
   "mark": {"type": "line", "invalid": "break-paths-show-domains"},
   "encoding": {
     "x": {"field": "jour", "type": "quantitative", "scale": {"domain": [0, 365], "nice": false, "zero": false},
           "axis": {"values": [0,31,59,90,120,151,181,212,243,273,304,334,365], "title": null,
                    "labelExpr": "datum.value >= 365 ? '' : ['1-janv','1-févr','1-mars','1-avr','1-mai','1-juin','1-juil','1-août','1-sept','1-oct','1-nov','1-déc'][indexof([0,31,59,90,120,151,181,212,243,273,304,334], datum.value)]",
                    "labelAngle": 270, "labelAlign": "right", "labelBaseline": "middle", "labelFontSize": 20, "labelColor": "black",
                    "labelPadding": 8, "tickSize": 6, "tickColor": "black", "tickWidth": 1.5, "domainColor": "black", "domainWidth": 1.5,
                    "labelOverlap": false, "labelFlush": false, "grid": true}},
     "y": {"field": "val", "type": "quantitative", "scale": {"domain": [410, 480], "nice": false, "zero": false},
           "axis": {"orient": "left", "values": [410,420,430,440,450,460,470,480], "labelColor": "#ff0000", "labelFontSize": 23,
                    "domainColor": "#ff0000", "domainWidth": 1.5, "tickColor": "#ff0000", "tickWidth": 1.5, "tickSize": 9, "labelPadding": 13,
                    "title": "microrad", "titleFontSize": 20, "titleFontWeight": "bold", "titleColor": "black",
                    "titleAngle": 270, "titleX": -102, "titleY": 129, "titleAlign": "center", "titleBaseline": "middle",
                    "grid": true, "labelFlush": false, "labelOverlap": false}},
     "color": {"field": "serie", "type": "nominal",
               "scale": {"domain": ["CHAP Rad 2007", "CHAP Rad 2008", "CHAP Tang 2007", "CHAP Tang 2008"], "range": ["#ff0000", "#ff6600", "#0000ff", "#3366ff"]},
               "legend": {"title": null, "orient": "none", "legendX": 142, "legendY": 343, "direction": "horizontal", "columns": 4,
                          "symbolType": "stroke", "symbolSize": 1600, "symbolStrokeWidth": 2,
                          "labelFontSize": 15, "labelFont": "Liberation Sans", "labelColor": "black", "labelOffset": 22,
                          "strokeColor": "black", "fillColor": "white", "padding": 6, "columnPadding": 10,
                          "encode": {"symbols": {"update": {"strokeWidth": {"signal": "(datum.value == 'CHAP Rad 2008' || datum.value == 'CHAP Tang 2008') ? 5 : 1.5"}}}}}},
     "strokeWidth": {"field": "serie", "type": "nominal",
                     "scale": {"type": "ordinal", "domain": ["CHAP Rad 2007", "CHAP Rad 2008", "CHAP Tang 2007", "CHAP Tang 2008"], "range": [1.3, 4.5, 1.3, 4.5]},
                     "legend": null}
   }},
  {"data": {"values": [{"jour": 45.6, "val": 449.6, "txt": "eruption"}, {"jour": 87.3, "val": 463.7, "txt": "eruption"}]},
   "mark": {"type": "text", "angle": 270, "fontSize": 16.5, "font": "Liberation Sans", "color": "black", "align": "center", "baseline": "middle"},
   "encoding": {"x": {"field": "jour", "type": "quantitative"},
                "y": {"field": "val", "type": "quantitative", "scale": {"domain": [410, 480], "nice": false, "zero": false}, "axis": null},
                "text": {"field": "txt"}}},
  {"transform": [{"filter": "indexof(datum.serie, 'Tang') >= 0"}],
   "mark": {"type": "line", "invalid": "break-paths-show-domains"},
   "encoding": {
     "x": {"field": "jour", "type": "quantitative"},
     "y": {"field": "val", "type": "quantitative", "scale": {"domain": [350, 520], "nice": false, "zero": false},
           "axis": {"orient": "right", "values": [350,370,390,410,430,450,470,490,510], "labelColor": "#0000ff", "labelFontSize": 23,
                    "domainColor": "#0000ff", "domainWidth": 1.5, "tickColor": "#0000ff", "tickWidth": 1.5, "tickSize": 8, "labelPadding": 11,
                    "title": "microrad", "titleFontSize": 20, "titleFontWeight": "bold", "titleColor": "black",
                    "titleAngle": 270, "titleX": 66, "titleY": 124, "titleAlign": "center", "titleBaseline": "middle",
                    "grid": false, "labelFlush": false, "labelOverlap": false}},
     "color": {"field": "serie", "type": "nominal"},
     "strokeWidth": {"field": "serie", "type": "nominal", "legend": null}
   }}
],
"resolve": {"scale": {"y": "independent"}}
}
